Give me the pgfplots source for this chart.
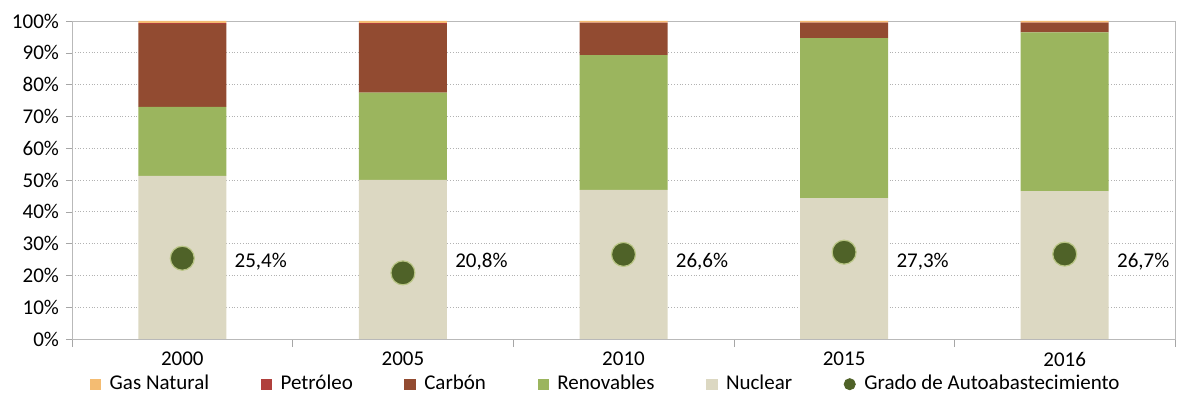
\documentclass[border=0pt]{standalone}
\usepackage{fontspec}
\setmainfont{Carlito}
\usepackage{pgfplots}
\pgfplotsset{compat=1.18}
\definecolor{gasc}{HTML}{F4BC72}
\definecolor{petc}{HTML}{B0403C}
\definecolor{carc}{HTML}{924B31}
\definecolor{renc}{HTML}{9BB55E}
\definecolor{nucc}{HTML}{DCD8C2}
\definecolor{dotc}{HTML}{4F6228}
\definecolor{rimc}{HTML}{B9C585}
\pgfplotsset{
  base/.style={
    scale only axis,
    width=551.5pt, height=159pt,
    xmin=-0.5, xmax=4.5,
    ymin=0, ymax=100,
    font=\fontsize{10.5}{12}\selectfont,
  },
}

\begin{document}
\begin{tikzpicture}
\begin{axis}[
    base,
    ybar stacked,
    bar width=44pt,
    ytick={0,10,...,100},
    yticklabel={\pgfmathprintnumber[assume math mode=true]{\tick}\%},
    xtick={0,...,4},
    xticklabels={2000,2005,2010,2015,2016},
    minor xtick={-0.5,0.5,...,4.5},
    major x tick style={draw=none},
    xtick pos=bottom, ytick pos=left,
    tick align=outside,
    major tick length=3pt, minor tick length=4pt,
    ymajorgrids,
    grid style={densely dotted, gray!60},
    axis line style={gray!55},
    tick style={gray!70},
    /pgf/number format/assume math mode=true,
]
% Nuclear, Renovables, Carbon, Petroleo, Gas Natural (bottom to top)
\addplot[fill=nucc, draw=none] coordinates {(0,51.3) (1,50.0) (2,46.9) (3,44.3) (4,46.5)};
\addplot[fill=renc, draw=none] coordinates {(0,21.7) (1,27.5) (2,42.4) (3,50.3) (4,49.9)};
\addplot[fill=carc, draw=none] coordinates {(0,26.0) (1,21.5) (2,10.0) (3,4.8) (4,3.0)};
\addplot[fill=petc, draw=none] coordinates {(0,0.3) (1,0.3) (2,0.2) (3,0.1) (4,0.1)};
\addplot[fill=gasc, draw=none] coordinates {(0,0.7) (1,0.7) (2,0.5) (3,0.5) (4,0.5)};
\end{axis}

\begin{axis}[
    base,
    hide axis,
    legend columns=-1,
    legend style={at={(0.485,0)}, anchor=north, yshift=-14pt,
      draw=none, fill=none, font=\fontsize{10.5}{12}\selectfont,
      /tikz/every even column/.append style={column sep=24pt},
      /tikz/every odd column/.append style={column sep=2.5pt}},
]
\addlegendimage{only marks, mark=square*, mark size=2.6pt, color=gasc}
\addlegendentry{Gas Natural}
\addlegendimage{only marks, mark=square*, mark size=2.6pt, color=petc}
\addlegendentry{Petróleo}
\addlegendimage{only marks, mark=square*, mark size=2.6pt, color=carc}
\addlegendentry{Carbón}
\addlegendimage{only marks, mark=square*, mark size=2.6pt, color=renc}
\addlegendentry{Renovables}
\addlegendimage{only marks, mark=square*, mark size=2.6pt, color=nucc}
\addlegendentry{Nuclear}
\addlegendimage{only marks, mark=*, mark size=2.8pt, color=dotc}
\addlegendentry{Grado de Autoabastecimiento}
% Grado de Autoabastecimiento
\addplot[only marks, mark=*, mark size=6pt,
  mark options={fill=dotc, draw=rimc, line width=0.6pt}, forget plot]
  coordinates {(0,25.4) (1,20.8) (2,26.6) (3,27.3) (4,26.7)};
% value labels, set at a common height beside each bar
\addplot[draw=none, mark=none, forget plot,
  point meta=explicit symbolic,
  nodes near coords,
  every node near coord/.style={anchor=west, xshift=26pt, text=black,
    inner sep=0pt, font=\fontsize{10.5}{12}\selectfont}]
  coordinates {(0,24.2)[25,4\%] (1,24.2)[20,8\%] (2,24.2)[26,6\%] (3,24.2)[27,3\%] (4,24.2)[26,7\%]};
\end{axis}
\path (current axis.south west) ++(-36pt,-31pt);
\path (current axis.north east) ++(2.5pt,10.5pt);
\end{tikzpicture}
\end{document}
